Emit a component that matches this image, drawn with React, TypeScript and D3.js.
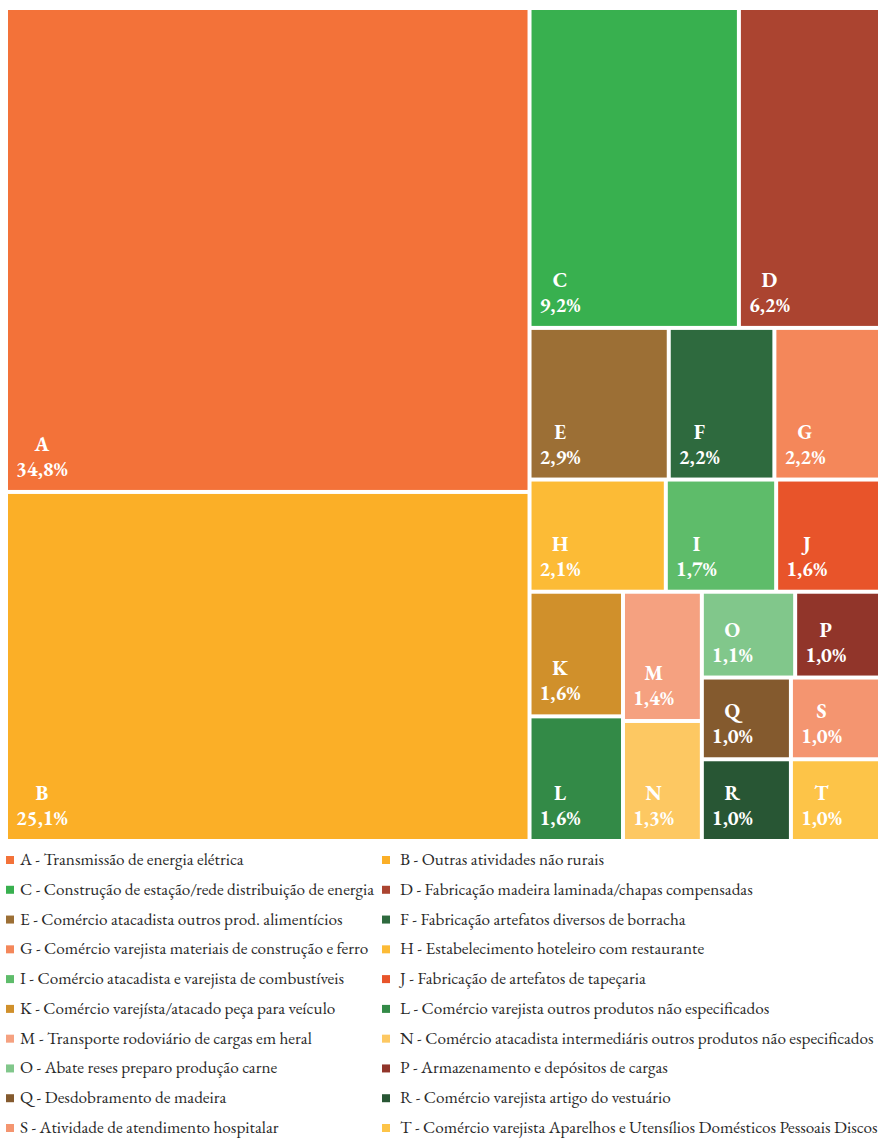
import React from "react";
import * as d3 from "d3";

const categories = ["A","B","C","D","E","F","G","H","I","J","K","L","M","N","O","P","Q","R","S","T"];
const values = [34.8,25.1,9.2,6.2,2.9,2.2,2.2,2.1,1.7,1.6,1.6,1.6,1.4,1.3,1.1,1.0,1.0,1.0,1.0,1.0];
const valueLabels = ["34,8%","25,1%","9,2%","6,2%","2,9%","2,2%","2,2%","2,1%","1,7%","1,6%","1,6%","1,6%","1,4%","1,3%","1,1%","1,0%","1,0%","1,0%","1,0%","1,0%"];
const descriptions = [
  "Transmissão de energia elétrica",
  "Outras atividades não rurais",
  "Construção de estação/rede distribuição de energia",
  "Fabricação madeira laminada/chapas compensadas",
  "Comércio atacadista outros prod. alimentícios",
  "Fabricação artefatos diversos de borracha",
  "Comércio varejista materiais de construção e ferro",
  "Estabelecimento hoteleiro com restaurante",
  "Comércio atacadista e varejista de combustíveis",
  "Fabricação de artefatos de tapeçaria",
  "Comércio varejísta/atacado peça para veículo",
  "Comércio varejista outros produtos não especificados",
  "Transporte rodoviário de cargas em heral",
  "Comércio atacadista intermediáris outros produtos não especificados",
  "Abate reses preparo produção carne",
  "Armazenamento e depósitos de cargas",
  "Desdobramento de madeira",
  "Comércio varejista artigo do vestuário",
  "Atividade de atendimento hospitalar",
  "Comércio varejista Aparelhos e Utensílios Domésticos Pessoais Discos",
];
const colors = [
  "#F37239","#FBAF27","#38B04F","#AB4430","#9C6F35","#2E6A3E","#F4875A","#FCBB36","#5EBC6A","#E8542A",
  "#D0902B","#338A47","#F5A180","#FDC862","#81C78B","#91352A","#845A2E","#285634","#F49570","#FDC448",
];

// tiling structure (h = side by side, v = stacked)
type G = { dir: "h" | "v"; children: (G | string)[] };
const layoutGroups: G = {
  dir: "h",
  children: [
    { dir: "v", children: ["A", "B"] },
    {
      dir: "v",
      children: [
        { dir: "h", children: ["C", "D"] },
        { dir: "h", children: ["E", "F", "G"] },
        { dir: "h", children: ["H", "I", "J"] },
        {
          dir: "h",
          children: [
            { dir: "v", children: ["K", "L"] },
            { dir: "v", children: ["M", "N"] },
            {
              dir: "v",
              children: [
                { dir: "h", children: ["O", "P"] },
                { dir: "h", children: [{ dir: "v", children: ["Q", "R"] }, { dir: "v", children: ["S", "T"] }] },
              ],
            },
          ],
        },
      ],
    },
  ],
};

const FONT = '"EB Garamond", "Liberation Serif", serif';
const LABEL_SIZE = 20.5;
const LEGEND_SIZE = 17.2;

let ctx: CanvasRenderingContext2D | null = null;
function measure(text: string, font: string): number {
  if (typeof document !== "undefined") {
    if (!ctx) ctx = document.createElement("canvas").getContext("2d");
    if (ctx) {
      ctx.font = font;
      return ctx.measureText(text).width;
    }
  }
  return text.length * 10;
}

export default function App() {
  const build = (g: G | string): any =>
    typeof g === "string"
      ? { name: g, value: values[categories.indexOf(g)] }
      : { dir: g.dir, children: g.children.map(build) };

  const root = d3.hierarchy(build(layoutGroups)).sum((d: any) => d.value || 0);
  const x0 = 8, y0 = 10, x1 = 878, y1 = 839;
  d3.treemap<any>()
    .size([x1 - x0, y1 - y0])
    .paddingInner(4)
    .tile((node: any, a, b, c, d) => {
      if (node.data.dir === "h") d3.treemapDice(node, a, b, c, d);
      else d3.treemapSlice(node, a, b, c, d);
    })(root);
  const leaves = root.leaves() as any[];

  const colX = [6, 382];
  const rowY = d3.scaleLinear().domain([0, 9]).range([860, 1128]);

  return (
    <svg width={889} height={1141} style={{ position: "absolute", left: 0, top: 0, background: "#fff" }}>
      <g transform={`translate(${x0},${y0})`}>
        {leaves.map((d) => {
          const i = categories.indexOf(d.data.name);
          const w = measure(valueLabels[i], `bold ${LABEL_SIZE}px "EB Garamond"`);
          return (
            <g key={d.data.name}>
              <rect x={d.x0} y={d.y0} width={d.x1 - d.x0} height={d.y1 - d.y0} fill={colors[i]} />
              <text
                x={d.x0 + 8 + w / 2}
                y={d.y1 - 39}
                textAnchor="middle"
                fill="#fff"
                style={{ fontFamily: FONT, fontWeight: "bold", fontSize: `${LABEL_SIZE}px` }}
              >
                {d.data.name}
              </text>
              <text
                x={d.x0 + 8}
                y={d.y1 - 14}
                fill="#fff"
                style={{ fontFamily: FONT, fontWeight: "bold", fontSize: `${LABEL_SIZE}px` }}
              >
                {valueLabels[i]}
              </text>
            </g>
          );
        })}
      </g>
      <g>
        {categories.map((c, i) => {
          const col = i % 2;
          const cy = rowY(Math.floor(i / 2));
          return (
            <g key={c}>
              <rect x={colX[col]} y={cy - 4} width={8} height={8} fill={colors[i]} />
              <text
                x={colX[col] + (col === 0 ? 14 : 18)}
                y={cy + 5}
                fill="#2a2a2a"
                style={{ fontFamily: FONT, fontSize: `${LEGEND_SIZE}px` }}
              >
                {`${c} - ${descriptions[i]}`}
              </text>
            </g>
          );
        })}
      </g>
    </svg>
  );
}
